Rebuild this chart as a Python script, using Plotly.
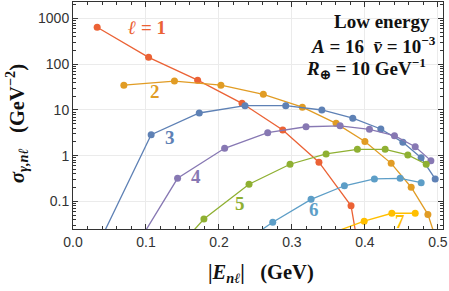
import plotly.graph_objects as go

# ---- data ----
x_l1 = [0.0331, 0.1036, 0.1708, 0.2316, 0.2874, 0.337, 0.381, 0.42]
y_l1 = [645, 142, 45, 14, 3.65, 0.72, 0.080, 2e-5]

x_l2 = [0.0697, 0.139, 0.2027, 0.2608, 0.3143, 0.3605, 0.400, 0.436, 0.4634, 0.4863, 0.503]
y_l2 = [35, 43, 35, 22, 11.5, 5.1, 2.05, 0.68, 0.204, 0.052, 0.008]

x_l3 = [0.039, 0.1071, 0.173, 0.2357, 0.2915, 0.341, 0.3834, 0.4218, 0.452, 0.477, 0.4963]
y_l3 = [0.016, 2.88, 8.6, 12.4, 12.4, 10, 6.6, 3.84, 1.96, 0.90, 0.31]

x_l4 = [0.078, 0.1433, 0.2078, 0.2668, 0.3193, 0.366, 0.4062, 0.4405, 0.4689, 0.4904]
y_l4 = [0.0063, 0.32, 1.45, 3.19, 4.3, 4.5, 3.78, 2.74, 1.57, 0.78]

x_l5 = [0.115, 0.1794, 0.2412, 0.2974, 0.3468, 0.3897, 0.4277, 0.4588, 0.484]
y_l5 = [0.003, 0.041, 0.237, 0.65, 1.09, 1.38, 1.38, 1.04, 0.65]

x_l6 = [0.215, 0.2737, 0.3262, 0.3719, 0.413, 0.4483, 0.4771]
y_l6 = [0.008, 0.035, 0.111, 0.22, 0.31, 0.32, 0.257]

x_l7 = [0.35, 0.399, 0.4369, 0.4689]
y_l7 = [0.019, 0.037, 0.055, 0.055]

series_x = [x_l1, x_l2, x_l3, x_l4, x_l5, x_l6, x_l7]
series_y = [y_l1, y_l2, y_l3, y_l4, y_l5, y_l6, y_l7]
colors = ["#EB6235", "#E19C24", "#5E81B5", "#8778B3", "#8FB032", "#5D9EC7", "#FFBF00"]

curve_labels = ["<i>ℓ</i> = 1", "2", "3", "4", "5", "6", "7"]
label_x = [0.1012, 0.1122, 0.1328, 0.1685, 0.2288, 0.3303, 0.4483]
label_logy = [2.816, 1.394, 0.409, -0.466, -1.035, -1.188, -1.444]

y_tickvals = [0.1, 1, 10, 100, 1000]
y_ticktext = ["0.1", "1", "10", "100", "1000"]
x_tickvals = [0.0, 0.1, 0.2, 0.3, 0.4, 0.5]
x_ticktext = ["0.0", "0.1", "0.2", "0.3", "0.4", "0.5"]

fig = go.Figure()
for xs, ys, c in zip(series_x, series_y, colors):
    fig.add_trace(go.Scatter(
        x=xs, y=ys, mode="lines+markers",
        line=dict(color=c, width=1.3),
        marker=dict(color=c, size=7),
        showlegend=False, cliponaxis=True,
    ))

serif = "Liberation Serif"
for t, xx, yy, c in zip(curve_labels, label_x, label_logy, colors):
    fig.add_annotation(x=xx, y=yy, xref="x", yref="y", text="<b>" + t + "</b>",
                       showarrow=False, font=dict(family=serif, size=19, color=c),
                       xanchor="center", yanchor="middle")

info = ["<b>Low energy</b>",
        "<b><i>A</i> = 16  <i>v̄</i> = 10<sup>−3</sup></b>",
        "<b><i>R</i><sub>⊕</sub> = 10 GeV<sup>−1</sup></b>"]
info_x = [0.970, 0.987, 0.960]
info_y = [0.912, 0.812, 0.708]
for t, xx, yy in zip(info, info_x, info_y):
    fig.add_annotation(x=xx, y=yy, xref="paper", yref="paper", text=t,
                       showarrow=False, font=dict(family=serif, size=19, color="#111"),
                       xanchor="right", yanchor="middle")

fig.add_annotation(x=0.508, y=-0.194, xref="paper", yref="paper",
                   text="<b>|<i>E</i><sub><i>nℓ</i></sub>|   (GeV)</b>",
                   showarrow=False, font=dict(family=serif, size=20.5, color="#111"),
                   xanchor="center", yanchor="middle")
fig.add_annotation(x=-0.151, y=0.463, xref="paper", yref="paper",
                   text="<b><i>σ</i><sub><i>γ,nℓ</i></sub>   (GeV<sup>−2</sup>)</b>",
                   showarrow=False, font=dict(family=serif, size=20.5, color="#111"),
                   textangle=-90, xanchor="center", yanchor="middle")

axis_common = dict(
    showline=True, linecolor="#333", linewidth=1, mirror="allticks",
    ticks="inside", ticklen=5, tickcolor="#333", tickwidth=1,
    showgrid=True, gridcolor="#ebebeb", gridwidth=1, zeroline=False,
    tickfont=dict(family="Liberation Sans", size=14, color="#333"),
    automargin=False,
)
fig.update_xaxes(range=[0, 0.507], tickmode="array", tickvals=x_tickvals, ticktext=x_ticktext,
                 ticklabeloverflow="allow",
                 minor=dict(ticks="inside", ticklen=3, dtick=0.02, tick0=0, tickcolor="#333", showgrid=False),
                 **axis_common)
fig.update_yaxes(type="log", range=[-1.604, 3.363], tickmode="array", tickvals=y_tickvals,
                 ticktext=y_ticktext,
                 minor=dict(ticks="inside", ticklen=3, dtick="D1", tickcolor="#333", showgrid=False),
                 **axis_common)

fig.update_layout(
    width=449, height=291,
    margin=dict(l=73, r=6, t=2, b=62),
    paper_bgcolor="white", plot_bgcolor="white",
)
fig.write_html("out.html", config={"displayModeBar": False},
               post_script="document.body.style.margin='0';")
